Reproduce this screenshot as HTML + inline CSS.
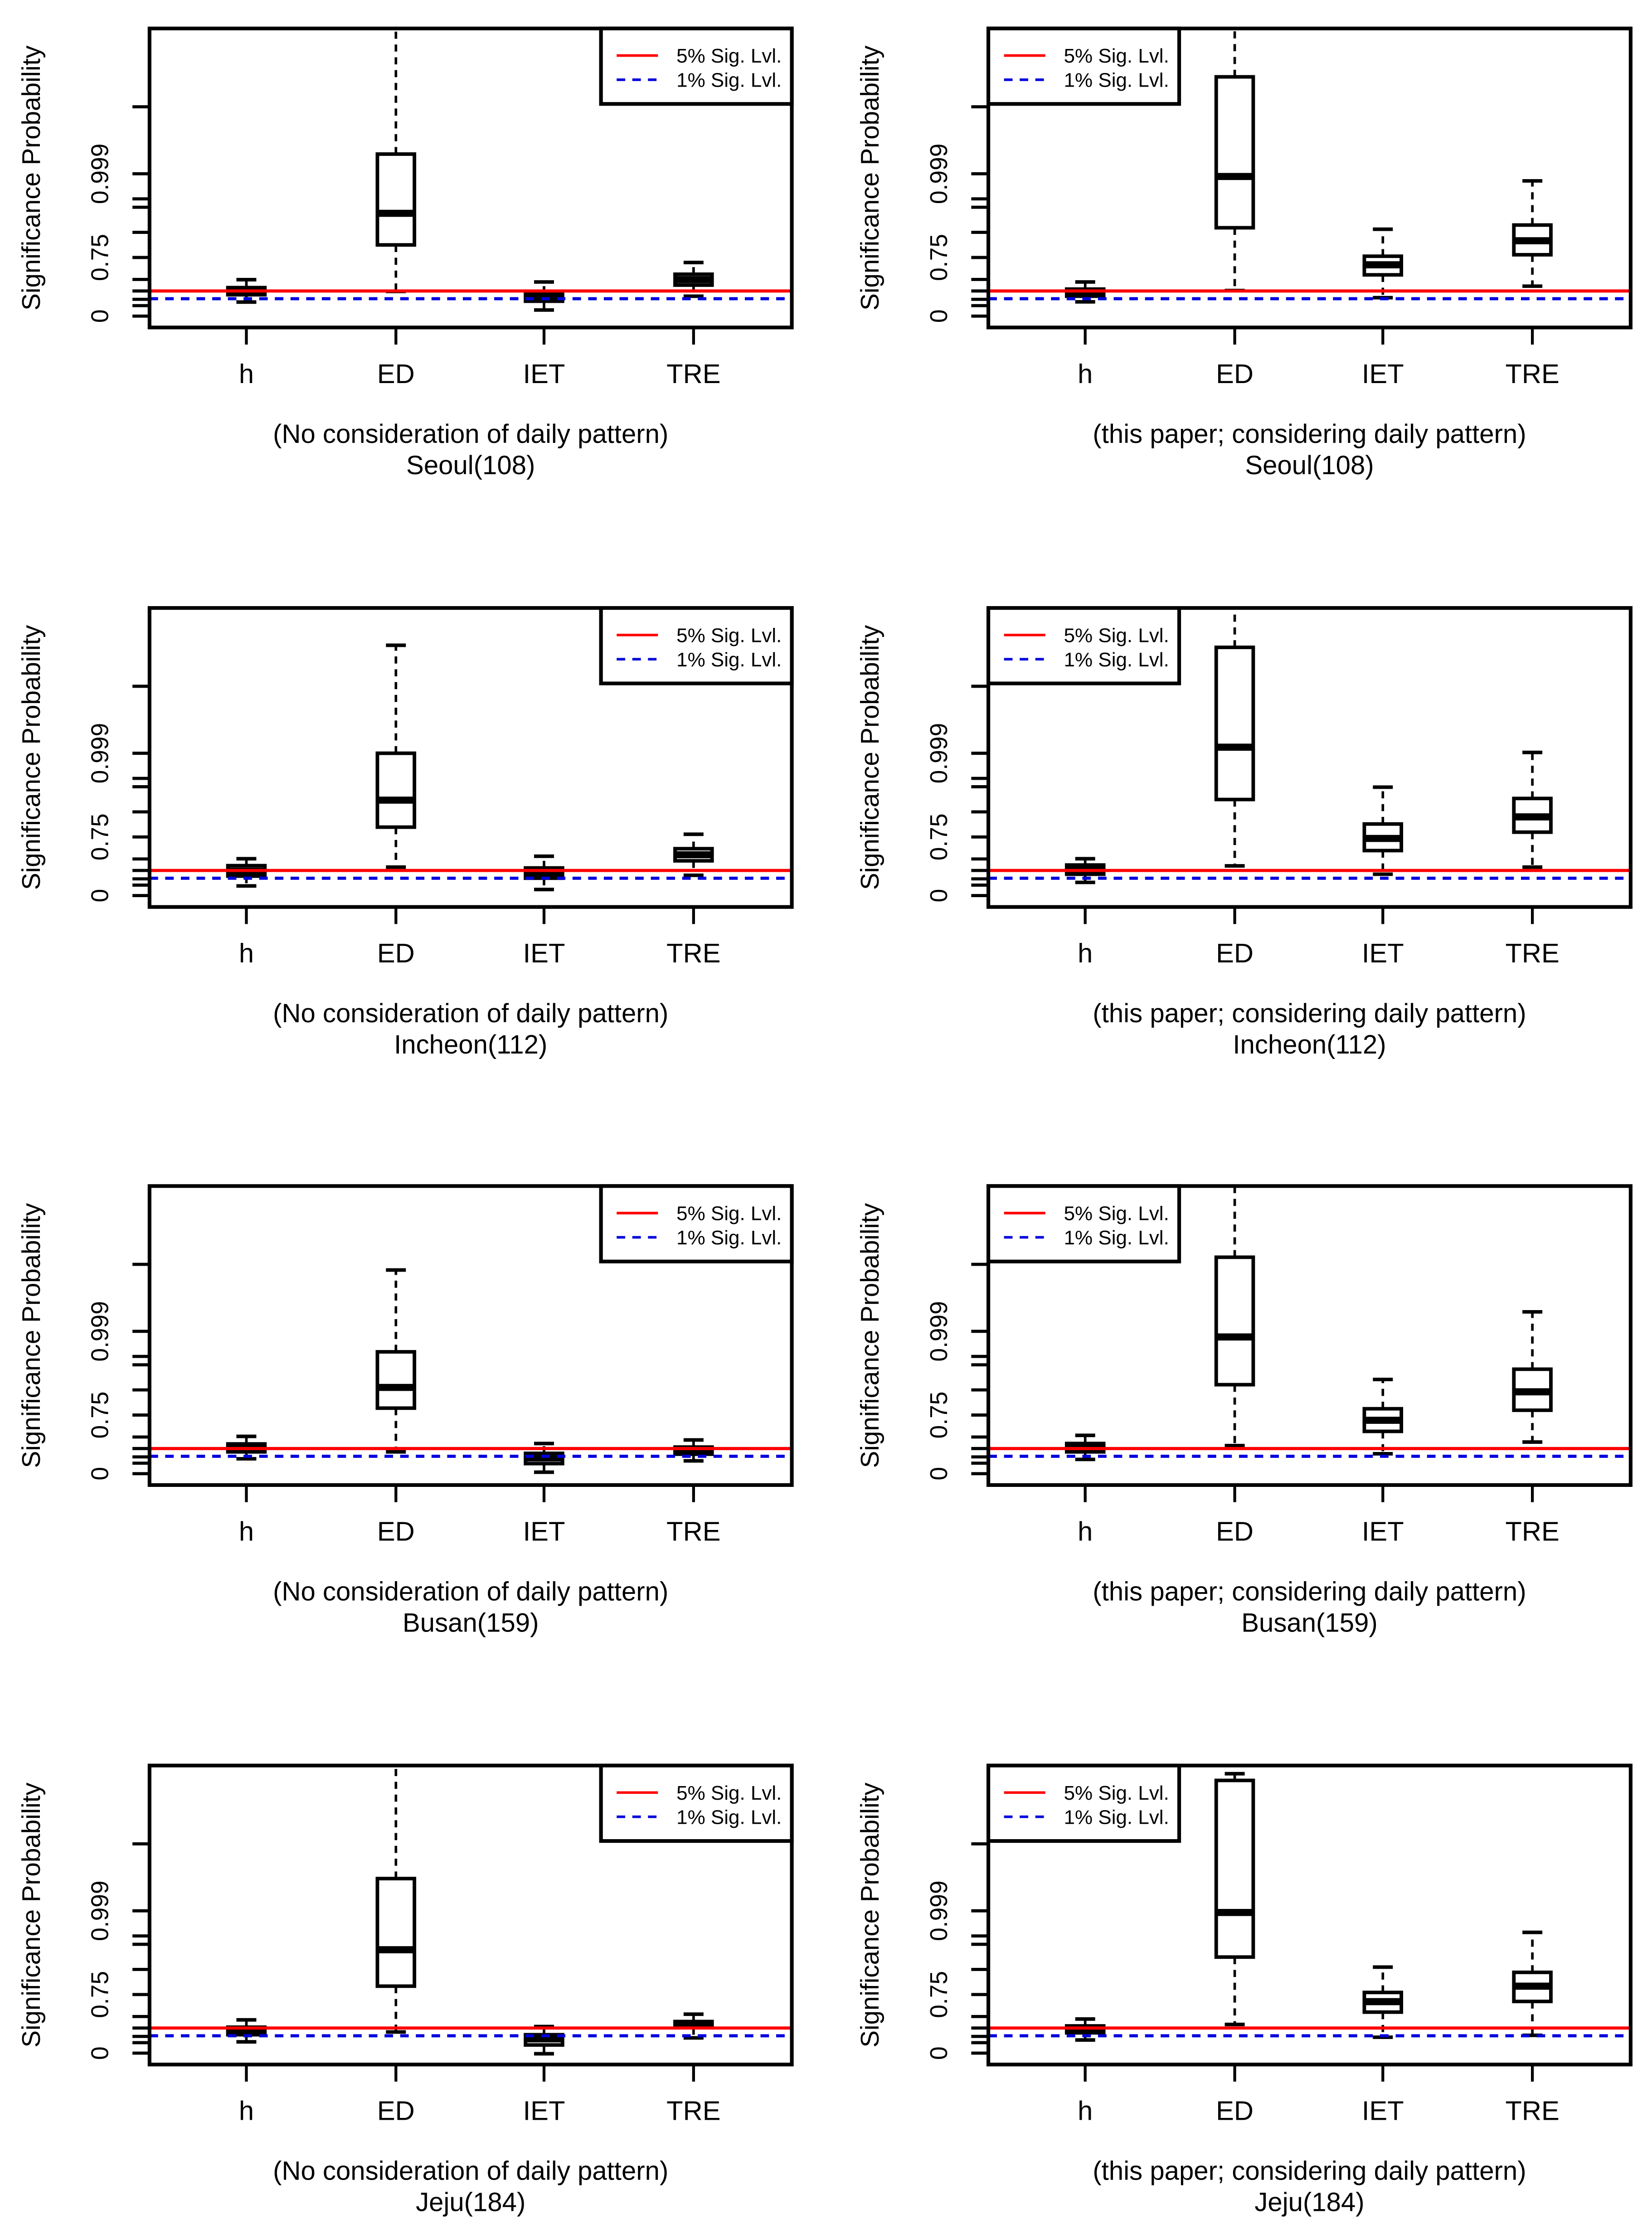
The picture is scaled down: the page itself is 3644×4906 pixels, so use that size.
<!DOCTYPE html>
<html><head><meta charset="utf-8"><style>
html,body{margin:0;padding:0;background:#fff;}
svg{display:block;}
text{font-family:"Liberation Sans",Arial,sans-serif;fill:#000;}
</style></head><body>
<svg id="chart" xmlns="http://www.w3.org/2000/svg" width="3644" height="4906" viewBox="0 0 1160 1562" preserveAspectRatio="none"></svg>
<script>
// ---- data (values in transformed significance-probability scale units) ----
const categories = ["h", "ED", "IET", "TRE"];
const stations = ["Seoul(108)", "Incheon(112)", "Busan(159)", "Jeju(184)"];
const methods = ["(No consideration of daily pattern)", "(this paper; considering daily pattern)"];
const tickValues = [0, 5, 8, 12, 17.5, 28, 40, 52, 56, 68, 100];
const tickLabelValues = [0, 28, 68];
const tickLabels = ["0", "0.75", "0.999"];
const sig5 = 12;
const sig1 = 8.3;
// each box: [lower whisker, q1, median, q3, upper whisker]
const seoulNo   = [[6.7,10.2,11.9,13.6,17.4],[11.8,34,49.1,77.4,140],[2.9,7.1,8.5,10.9,16.3],[9.5,14.8,17.4,20,25.6]];
const seoulYes  = [[6.8,9.5,11.6,12.9,16.3],[12.2,42.2,66.7,114.3,140],[8.8,19.7,24.5,28.6,41.5],[14.3,29.3,36,43.5,64.6]];
const incheonNo = [[4.6,9.3,11.7,14.3,17.6],[13.6,32.7,45.6,68,119.6],[2.9,8.3,10.5,13.2,18.8],[9.7,16.6,19.5,22.4,29.3]];
const incheonYes= [[6.3,10.2,12.4,14.6,17.6],[14.2,45.9,70.9,118.6,140],[10.2,21.5,27.3,34.2,51.8],[13.6,30.3,37.6,46.4,68.4]];
const busanNo   = [[7.1,10.4,12.2,14.2,17.8],[10.4,31.3,41.2,58.2,97.3],[0.7,4.8,7.5,9.7,14.4],[6.1,9.3,11.2,12.7,16.1]];
const busanYes  = [[6.8,10.4,12.4,14.4,18.3],[13.4,42.5,65.3,103.4,140],[9.5,20.2,25.5,31.0,45],[15.1,30.3,39.1,49.9,77.3]];
const jejuNo    = [[5.4,8.8,10.5,12.4,15.9],[10.1,32.0,49.4,83.4,140],[-0.3,3.9,6.8,8.8,12.7],[7.3,12.2,13.7,15.1,18.6]];
const jejuYes   = [[6.3,9.7,11.4,13.0,16.3],[13.7,45.9,67.2,130.3,133.5],[7.6,19.6,24.6,29.0,41.1],[8.5,24.7,32.0,38.6,57.7]];
const panelData = [[seoulNo, seoulYes],[incheonNo, incheonYes],[busanNo, busanYes],[jejuNo, jejuYes]];

const NS = "http://www.w3.org/2000/svg";
const svg = document.getElementById("chart");
function mk(tag, attrs, parent){
  const e = document.createElementNS(NS, tag);
  for (const k in attrs) e.setAttribute(k, attrs[k]);
  (parent||svg).appendChild(e);
  return e;
}
const rowOffsets = [0, 407, 813, 1220];
const colX = [105, 694];
const W = 451, TOP = 20, BOT = 230;
const catOffsets = [68, 173, 277, 382];

rowOffsets.forEach((oy, r) => {
  colX.forEach((ox, c) => {
    const g = mk("g", {});
    
    
    const yS = v => oy + 222 - v * 1.47;
    const xS = i => ox + catOffsets[i];
    const cid = "clip" + r + c;
    const cp = mk("clipPath", {id: cid}, g);
    mk("rect", {x: ox, y: oy + TOP, width: W, height: BOT - TOP}, cp);

    tickValues.forEach(v => {
      const t = mk("line", {x1: ox - 12, x2: ox, y1: yS(v), y2: yS(v), stroke: "#000", "stroke-width": 2.2}, g);
      
      
    });
    tickLabelValues.forEach((v, i) => {
      const x = ox - 29, y = yS(v);
      const t = mk("text", {x: x, y: y, "font-size": 17, "text-anchor": "middle", transform: `rotate(-90 ${x} ${y})`}, g);
      t.textContent = tickLabels[i];
      
      
    });
    const ax = ox - 77, ay = oy + 125;
    const yt = mk("text", {x: ax, y: ay, "font-size": 18, "text-anchor": "middle", transform: `rotate(-90 ${ax} ${ay})`}, g);
    yt.textContent = "Significance Probability";
    
    

    categories.forEach((cat, i) => {
      const t = mk("line", {x1: xS(i), x2: xS(i), y1: oy + BOT, y2: oy + BOT + 12, stroke: "#000", "stroke-width": 2}, g);
      
      
      const l = mk("text", {x: xS(i), y: oy + 269, "font-size": 19, "text-anchor": "middle"}, g);
      l.textContent = cat;
      
      
    });

    const plot = mk("g", {"clip-path": `url(#${cid})`}, g);
    panelData[r][c].forEach((b, i) => {
      const bg = mk("g", {}, plot);
      
      
      const x = xS(i), hw = 13, cw = 7;
      mk("line", {x1: x, x2: x, y1: yS(b[3]), y2: yS(b[4]), stroke: "#000", "stroke-width": 1.8, "stroke-dasharray": "5,4"}, bg);
      mk("line", {x1: x, x2: x, y1: yS(b[1]), y2: yS(b[0]), stroke: "#000", "stroke-width": 1.8, "stroke-dasharray": "5,4"}, bg);
      mk("line", {x1: x - cw, x2: x + cw, y1: yS(b[4]), y2: yS(b[4]), stroke: "#000", "stroke-width": 2.5}, bg);
      mk("line", {x1: x - cw, x2: x + cw, y1: yS(b[0]), y2: yS(b[0]), stroke: "#000", "stroke-width": 2.5}, bg);
      mk("rect", {x: x - hw, y: yS(b[3]), width: 2 * hw, height: yS(b[1]) - yS(b[3]), fill: "#fff", stroke: "#000", "stroke-width": 2.5}, bg);
      mk("line", {x1: x - hw, x2: x + hw, y1: yS(b[2]), y2: yS(b[2]), stroke: "#000", "stroke-width": 5}, bg);
    });
    const red = mk("line", {x1: ox, x2: ox + W, y1: yS(sig5), y2: yS(sig5), stroke: "#ff0000", "stroke-width": 2.2}, plot);
    
    
    const blue = mk("line", {x1: ox, x2: ox + W, y1: yS(sig1), y2: yS(sig1), stroke: "#0000dd", "stroke-width": 2.2, "stroke-dasharray": "6,5"}, plot);
    
    

    const fr = mk("rect", {x: ox, y: oy + TOP, width: W, height: BOT - TOP, fill: "none", stroke: "#000", "stroke-width": 2.6}, g);
    
    

    const lx = c === 0 ? ox + W - 134 : ox;
    const lg = mk("g", {}, g);
    
    
    mk("rect", {x: lx, y: oy + TOP, width: 134, height: 53, fill: "#fff", stroke: "#000", "stroke-width": 2.6}, lg);
    mk("line", {x1: lx + 11, x2: lx + 40, y1: oy + 39, y2: oy + 39, stroke: "#ff0000", "stroke-width": 1.8}, lg);
    mk("line", {x1: lx + 11, x2: lx + 40, y1: oy + 56, y2: oy + 56, stroke: "#0000dd", "stroke-width": 1.8, "stroke-dasharray": "6,5"}, lg);
    const t1 = mk("text", {x: lx + 53, y: oy + 44, "font-size": 14, fill: "#222"}, lg);
    t1.textContent = "5% Sig. Lvl.";
    
    
    const t2 = mk("text", {x: lx + 53, y: oy + 61, "font-size": 14, fill: "#222"}, lg);
    t2.textContent = "1% Sig. Lvl.";
    
    

    const cx = ox + W / 2;
    const s1 = mk("text", {x: cx, y: oy + 311, "font-size": 18.5, "text-anchor": "middle"}, g);
    s1.textContent = methods[c];
    
    
    const s2 = mk("text", {x: cx, y: oy + 333, "font-size": 18.5, "text-anchor": "middle"}, g);
    s2.textContent = stations[r];
    
    
  });
});
</script>
</body></html>
